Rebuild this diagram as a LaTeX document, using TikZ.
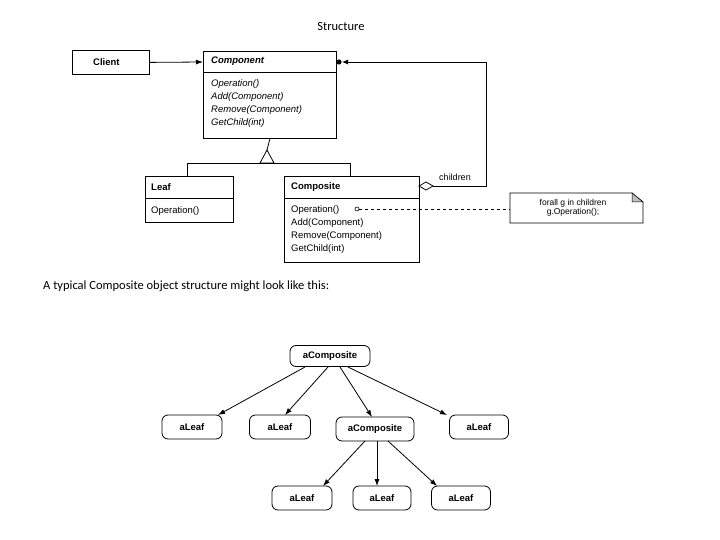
\documentclass[tikz,border=0pt]{standalone}
\usepackage{fontspec}
\setmainfont{Liberation Sans}
\newfontfamily\calfont{Carlito}
\usetikzlibrary{arrows.meta}
\begin{document}
\begin{tikzpicture}[x=1pt,y=-1pt,
  box/.style={draw,line width=0.8pt,anchor=north west,inner sep=0pt},
  txt/.style={anchor=west,inner sep=0pt,font=\fontsize{9.5}{10}\selectfont},
  obj/.style={draw,line width=0.8pt,rounded corners=6pt,inner sep=0pt,font=\fontsize{9.5}{10}\selectfont\bfseries},
  arr/.style={line width=0.8pt,-{Latex[length=7pt,width=5pt]}}]
\useasboundingbox (0,0) rectangle (720,540);
\node[font=\calfont\fontsize{12.5}{14}\selectfont] (title) at (341,26) {Structure};
\node[font=\calfont\fontsize{12.5}{14}\selectfont,anchor=west,inner sep=0pt] (sent) at (43,286) {A typical Composite object structure might look like this:};
% Client
\node[box,minimum width=77pt,minimum height=24pt] (client) at (72,50) {};
\node[txt,font=\fontsize{9.5}{10}\selectfont\bfseries] (clientT) at (93,62) {Client};
% Component
\node[box,minimum width=133pt,minimum height=87pt] (comp) at (203,51) {};
\draw[line width=0.8pt] (203,72) -- (336,72);
\node[txt,font=\fontsize{9.5}{10}\selectfont\bfseries\itshape] (compT) at (211,61) {Component};
\node[txt,font=\fontsize{9.5}{10}\selectfont\itshape] (c1) at (211,84) {Operation()};
\node[txt,font=\fontsize{9.5}{10}\selectfont\itshape] (c2) at (211,97) {Add(Component)};
\node[txt,font=\fontsize{9.5}{10}\selectfont\itshape] (c3) at (211,110) {Remove(Component)};
\node[txt,font=\fontsize{9.5}{10}\selectfont\itshape] (c4) at (211,123) {GetChild(int)};
% Leaf
\node[box,minimum width=88pt,minimum height=46pt] (leaf) at (145,176) {};
\draw[line width=0.8pt] (145,198) -- (233,198);
\node[txt,font=\fontsize{9.5}{10}\selectfont\bfseries] (leafT) at (151,187) {Leaf};
\node[txt] (l1) at (151,211) {Operation()};
% Composite
\node[box,minimum width=135pt,minimum height=86pt] (cmp) at (284,176) {};
\draw[line width=0.8pt] (284,198) -- (419,198);
\node[txt,font=\fontsize{9.5}{10}\selectfont\bfseries] (cmpT) at (291,187) {Composite};
\node[txt] (m1) at (291,210) {Operation()};
\node[txt] (m2) at (291,223) {Add(Component)};
\node[txt] (m3) at (291,236) {Remove(Component)};
\node[txt] (m4) at (291,249) {GetChild(int)};
% client -> component
\draw[arr] (client.east) -- (203,62);
% inheritance
\draw[line width=0.8pt] (comp.south) -- (267,150);
\draw[line width=0.8pt,fill=white] (267,150) -- (260,163) -- (274,163) -- cycle;
\draw[line width=0.8pt] (187,176) -- (187,163) -- (350,163) -- (350,176);
% aggregation
\draw[line width=0.8pt] (419,186) -- (426,182) -- (433,186) -- (426,190) -- cycle;
\draw[line width=0.9pt] (433,186) -- (486,186) -- (486,62) -- (348,62);
\draw[line width=0.9pt,-{Latex[length=6pt,width=5pt]}] (352,62) -- (342,62);
\fill (339,62) circle (2.6pt);
\node[font=\fontsize{9}{10}\selectfont] (ch) at (455,177) {children};
% note
\draw[line width=0.7pt] (510,193) -- (632,193) -- (643,202) -- (643,223) -- (510,223) -- cycle;
\draw[line width=0.5pt,fill=gray!50] (632,193) -- (643,202) -- (632,202) -- cycle;
\node[align=center,font=\fontsize{8.5}{9}\selectfont] (note) at (573,208) {forall g in children\\g.Operation();};
\draw[line width=0.6pt] (357,209) circle (2pt);
\draw[line width=0.7pt,dash pattern=on 3pt off 3pt] (359,209) -- (510,209);
% object tree
\node[obj,minimum width=80pt,minimum height=21pt] (r) at (330,356) {aComposite};
\node[obj,minimum width=60pt,minimum height=24pt] (a1) at (192,427) {aLeaf};
\node[obj,minimum width=61pt,minimum height=24pt] (a2) at (280,427) {aLeaf};
\node[obj,minimum width=78pt,minimum height=24pt] (a3) at (375,429) {aComposite};
\node[obj,minimum width=59pt,minimum height=24pt] (a4) at (479,427) {aLeaf};
\node[obj,minimum width=60pt,minimum height=24pt] (b1) at (302,498) {aLeaf};
\node[obj,minimum width=58pt,minimum height=24pt] (b2) at (382,498) {aLeaf};
\node[obj,minimum width=59pt,minimum height=24pt] (b3) at (461,498) {aLeaf};
\draw[arr] (305,367) -- (218,415);
\draw[arr] (328,367) -- (285,415);
\draw[arr] (340,367) -- (372,417);
\draw[arr] (348,367) -- (447,415);
\draw[arr] (365,441) -- (323,486);
\draw[arr] (377,441) -- (377,486);
\draw[arr] (388,441) -- (437,486);
\end{tikzpicture}
\end{document}
